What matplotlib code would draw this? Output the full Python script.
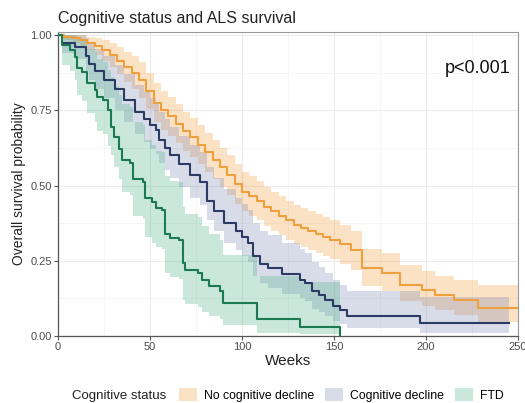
import numpy as np
import matplotlib
matplotlib.use("Agg")
import matplotlib.pyplot as plt
from matplotlib.patches import Patch

plt.rcParams['font.family'] = ['Liberation Sans', 'DejaVu Sans']

# Kaplan-Meier estimates (weeks, survival, CI)
no_decline_t = [0, 3, 8, 12, 16, 20, 24, 28, 32, 36, 40, 44, 48, 52, 56, 60, 64, 68, 72, 76,
                80, 84, 88, 92, 96, 100, 104, 108, 112, 116, 120, 124, 128, 132, 136, 140,
                144, 148, 153, 159, 165, 176, 186, 198, 205, 215, 228, 250]
no_decline_s = [1.0, 0.995, 0.99, 0.985, 0.975, 0.965, 0.95, 0.935, 0.915, 0.895, 0.875, 0.85,
                0.815, 0.775, 0.75, 0.73, 0.705, 0.68, 0.66, 0.635, 0.61, 0.585, 0.56, 0.535,
                0.505, 0.48, 0.465, 0.45, 0.43, 0.415, 0.40, 0.385, 0.37, 0.36, 0.35, 0.34,
                0.33, 0.32, 0.305, 0.285, 0.225, 0.21, 0.17, 0.153, 0.136, 0.12, 0.093, 0.093]
no_decline_hi = [1.0, 1.0, 1.0, 1.0, 0.995, 0.99, 0.985, 0.975, 0.96, 0.945, 0.93, 0.91,
                 0.875, 0.84, 0.815, 0.795, 0.77, 0.745, 0.725, 0.70, 0.675, 0.65, 0.625, 0.60,
                 0.57, 0.545, 0.53, 0.515, 0.495, 0.48, 0.465, 0.45, 0.435, 0.425, 0.415, 0.405,
                 0.395, 0.385, 0.37, 0.35, 0.29, 0.275, 0.235, 0.215, 0.20, 0.185, 0.17, 0.17]
no_decline_lo = [1.0, 0.985, 0.975, 0.965, 0.95, 0.935, 0.915, 0.895, 0.87, 0.845, 0.82, 0.79,
                 0.755, 0.71, 0.685, 0.665, 0.64, 0.615, 0.595, 0.57, 0.545, 0.52, 0.495, 0.47,
                 0.44, 0.415, 0.40, 0.385, 0.365, 0.35, 0.335, 0.32, 0.305, 0.295, 0.285, 0.275,
                 0.265, 0.255, 0.24, 0.22, 0.165, 0.15, 0.115, 0.10, 0.085, 0.07, 0.045, 0.045]

decline_t = [0, 2, 9, 15, 17, 20, 25, 31, 36, 42, 47, 50, 53, 55, 58, 61, 66, 72, 77, 81, 85,
             90, 97, 100, 103, 106, 110, 114, 122, 131.5, 134, 138, 142, 145, 149.5, 153, 157,
             197, 245]
decline_s = [1.0, 0.975, 0.96, 0.93, 0.905, 0.88, 0.85, 0.82, 0.785, 0.745, 0.72, 0.70, 0.685,
             0.65, 0.625, 0.60, 0.57, 0.535, 0.51, 0.45, 0.415, 0.375, 0.35, 0.33, 0.31, 0.265,
             0.24, 0.225, 0.205, 0.186, 0.175, 0.148, 0.135, 0.12, 0.10, 0.085, 0.066, 0.043,
             0.043]
decline_hi = [1.0, 1.0, 1.0, 0.99, 0.975, 0.955, 0.93, 0.90, 0.87, 0.835, 0.81, 0.79, 0.775,
              0.745, 0.72, 0.695, 0.665, 0.635, 0.61, 0.56, 0.525, 0.49, 0.46, 0.44, 0.42, 0.375,
              0.35, 0.335, 0.31, 0.29, 0.275, 0.245, 0.23, 0.21, 0.185, 0.17, 0.15, 0.13, 0.13]
decline_lo = [1.0, 0.94, 0.92, 0.88, 0.85, 0.82, 0.79, 0.75, 0.71, 0.67, 0.645, 0.62, 0.605,
              0.575, 0.55, 0.525, 0.495, 0.46, 0.435, 0.385, 0.35, 0.31, 0.285, 0.265, 0.245,
              0.20, 0.175, 0.16, 0.14, 0.125, 0.115, 0.09, 0.08, 0.065, 0.05, 0.04, 0.025, 0.01,
              0.01]

ftd_t = [0, 2, 6.5, 9, 10.5, 13, 16, 20, 21, 24.5, 27, 29, 30.5, 33, 35, 39, 41, 46, 47.5, 51,
         53, 56.5, 58, 61, 66, 68, 69, 76, 78, 82, 88, 89.5, 108, 131.5, 153]
ftd_s = [1.0, 0.967, 0.95, 0.927, 0.89, 0.877, 0.84, 0.817, 0.794, 0.784, 0.75, 0.694, 0.66,
         0.62, 0.585, 0.575, 0.52, 0.51, 0.46, 0.445, 0.425, 0.42, 0.34, 0.325, 0.32, 0.243,
         0.22, 0.21, 0.186, 0.165, 0.15, 0.11, 0.055, 0.03, 0.0]
ftd_hi = [1.0, 1.0, 1.0, 1.0, 0.99, 0.98, 0.955, 0.94, 0.92, 0.91, 0.885, 0.86, 0.83, 0.80,
          0.77, 0.76, 0.71, 0.70, 0.65, 0.635, 0.615, 0.61, 0.53, 0.515, 0.51, 0.43, 0.405,
          0.395, 0.365, 0.34, 0.32, 0.27, 0.20, 0.18, 0.18]
ftd_lo = [1.0, 0.90, 0.88, 0.85, 0.80, 0.78, 0.74, 0.71, 0.68, 0.67, 0.63, 0.60, 0.56, 0.52,
          0.48, 0.47, 0.40, 0.39, 0.33, 0.31, 0.295, 0.29, 0.21, 0.195, 0.19, 0.12, 0.105,
          0.095, 0.08, 0.065, 0.055, 0.035, 0.01, 0.005, 0.005]

groups = ["No cognitive decline", "Cognitive decline", "FTD"]
line_colors = ["#EFA03E", "#2B3B66", "#1B7A52"]
fill_colors = ["#F5A040", "#7F8BB5", "#4DB38A"]

fig = plt.figure(figsize=(5.25, 4.03), dpi=100)
ax = fig.add_axes([58 / 525, 67 / 403, 460 / 525, 304 / 403])

curves = [
    (no_decline_t, no_decline_s, no_decline_lo, no_decline_hi),
    (decline_t, decline_s, decline_lo, decline_hi),
    (ftd_t, ftd_s, ftd_lo, ftd_hi),
]
for (t, s, lo, hi), fc in zip(curves, fill_colors):
    ax.fill_between(t, lo, hi, step="post", color=fc, alpha=0.3, lw=0, zorder=2)
for (t, s, lo, hi), lc in zip(curves, line_colors):
    ax.step(t, s, where="post", color=lc, lw=1.5, zorder=3)

ax.set_xlim(0, 250)
ax.set_ylim(0, 1.01)
ax.set_xticks([0, 50, 100, 150, 200, 250])
ax.set_xticks([25, 75, 125, 175, 225], minor=True)
ax.set_yticks([0, 0.25, 0.5, 0.75, 1.0])
ax.set_yticklabels(["0.00", "0.25", "0.50", "0.75", "1.00"])
ax.set_yticks([0.125, 0.375, 0.625, 0.875], minor=True)
ax.grid(which="major", color="#EBEBEB", lw=0.8, zorder=0)
ax.grid(which="minor", color="#F4F4F4", lw=0.6, zorder=0)
ax.set_axisbelow(True)
ax.tick_params(which="major", length=3, color="#555555", labelcolor="#4D4D4D",
               labelsize=8, pad=1.5)
ax.tick_params(which="minor", length=0)
for side in ["top", "right"]:
    ax.spines[side].set_color("#9A9A9A")
    ax.spines[side].set_linewidth(0.8)
for side in ["left", "bottom"]:
    ax.spines[side].set_color("#555555")
    ax.spines[side].set_linewidth(0.9)

ax.set_xlabel("Weeks", fontsize=11, color="#222222", labelpad=1)
ax.set_ylabel("Overall survival probability", fontsize=10, color="#222222", labelpad=3)
ax.text(228, 0.89, "p<0.001", fontsize=13, ha="center", va="center", color="#111111")
fig.text(58 / 525, 1 - 18 / 403, "Cognitive status and ALS survival", fontsize=11.5,
         color="#222222", ha="left", va="center")

handles = [Patch(facecolor=fc, alpha=0.3, edgecolor="none") for fc in fill_colors]
fig.text(72 / 525, 1 - 396 / 403, "Cognitive status", fontsize=9.5, color="#222222",
         ha="left", va="center")
fig.legend(handles, groups, loc="center left", bbox_to_anchor=(179 / 525, 1 - 395 / 403),
           ncol=3, frameon=False, fontsize=8.8, handlelength=1.45, handleheight=1.25,
           handletextpad=0.6, columnspacing=0.9, borderpad=0, borderaxespad=0)

fig.savefig("out.png", dpi=100)
